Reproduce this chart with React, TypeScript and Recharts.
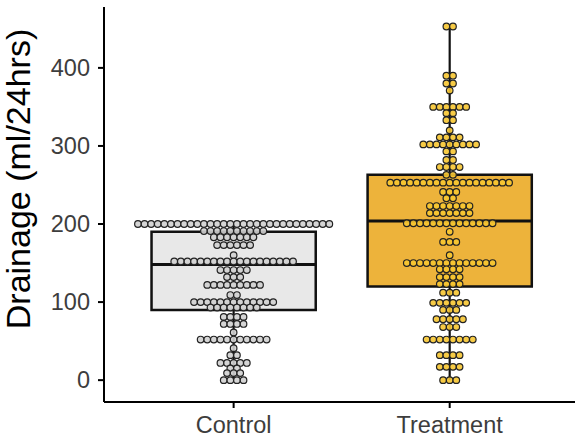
import { ComposedChart, XAxis, YAxis, Scatter, ReferenceArea, ReferenceLine } from "recharts";

const groups = ["Control", "Treatment"];

// dot plot rows: [drainage value, number of dots in that row]
const controlRows = [
  [200, 30], [191, 10], [183, 7], [173, 6], [160, 1], [152, 19], [141, 5],
  [132, 3], [122, 9], [109, 2], [100, 13], [93, 8], [81, 4], [72, 4],
  [61, 1], [52, 11], [41, 1], [32, 2], [22, 5], [15, 2], [9, 3], [0, 4],
];

const treatmentRows = [
  [453, 2], [390, 2], [380, 2], [371, 1], [350, 6], [342, 2], [333, 2],
  [320, 1], [311, 4], [302, 9], [293, 2], [282, 2], [273, 4], [263, 2],
  [253, 19], [241, 3], [233, 2], [223, 7], [214, 7], [201, 14], [190, 1],
  [177, 3], [160, 1], [150, 14], [142, 4], [132, 4], [123, 4], [112, 3],
  [99, 6], [90, 3], [78, 5], [68, 3], [52, 8], [32, 4], [17, 4], [0, 3],
];

const boxMin = [0, 0];
const boxQ1 = [90, 120];
const boxMedian = [148, 204];
const boxQ3 = [190, 263];
const boxMax = [200, 452];

const yTicks = [0, 100, 200, 300, 400];

const BOX_FILL = ["#E8E8E8", "#EDB33B"];
const DOT_FILL = ["#D0D0D0", "#F6C531"];
const DOT_STEP = 6.6;
const HALF_BOX = 0.38;

const toPoints = (rows: number[][], gi: number) =>
  rows.flatMap(([value, n]) =>
    Array.from({ length: n }, (_, i) => ({ x: gi + 1, y: value, slot: i - (n - 1) / 2 }))
  );

const controlPoints = toPoints(controlRows, 0);
const treatmentPoints = toPoints(treatmentRows, 1);

const makeDot = (fill: string) => (props: any) => {
  const { cx, cy, payload } = props;
  return (
    <circle
      cx={cx + payload.slot * DOT_STEP}
      cy={cy}
      r={3.3}
      fill={fill}
      fillOpacity={0.9}
      stroke="#222"
      strokeWidth={1.2}
    />
  );
};

const FONT = "'Liberation Sans', Arial, sans-serif";

export default function App() {
  return (
    <div style={{ position: "absolute", left: 0, top: 0, width: 575, height: 444, overflow: "hidden", background: "#fff" }}>
      <ComposedChart width={575} height={444} margin={{ top: 7, right: 0, bottom: 0, left: 0 }}>
        <XAxis
          type="number"
          dataKey="x"
          domain={[0.4, 2.58]}
          allowDataOverflow
          ticks={[1, 2]}
          tickFormatter={(v: number) => groups[v - 1]}
          height={42}
          axisLine={{ stroke: "#000", strokeWidth: 2 }}
          tickLine={{ stroke: "#000", strokeWidth: 2 }}
          tickSize={6}
          tickMargin={8}
          tick={{ fontSize: 23.5, fill: "#3d3d3d", fontFamily: FONT }}
        />
        <YAxis
          type="number"
          dataKey="y"
          domain={[-28, 478]}
          allowDataOverflow
          ticks={yTicks}
          width={104}
          axisLine={{ stroke: "#000", strokeWidth: 2 }}
          tickLine={{ stroke: "#000", strokeWidth: 2 }}
          tickSize={6}
          tickMargin={8}
          tick={{ fontSize: 23.5, fill: "#3d3d3d", fontFamily: FONT }}
        />
        {groups.map((g, i) => (
          <ReferenceArea
            key={`box-${g}`}
            x1={i + 1 - HALF_BOX}
            x2={i + 1 + HALF_BOX}
            y1={boxQ1[i]}
            y2={boxQ3[i]}
            fill={BOX_FILL[i]}
            fillOpacity={1}
            stroke="#111"
            strokeWidth={2.5}
          />
        ))}
        <Scatter data={controlPoints} isAnimationActive={false} shape={makeDot(DOT_FILL[0])} />
        <Scatter data={treatmentPoints} isAnimationActive={false} shape={makeDot(DOT_FILL[1])} />
        {groups.map((g, i) => (
          <ReferenceLine
            key={`lo-${g}`}
            segment={[{ x: i + 1, y: boxMin[i] }, { x: i + 1, y: boxQ1[i] }]}
            stroke="#111"
            strokeWidth={2.2}
          />
        ))}
        {groups.map((g, i) => (
          <ReferenceLine
            key={`hi-${g}`}
            segment={[{ x: i + 1, y: boxQ3[i] }, { x: i + 1, y: boxMax[i] }]}
            stroke="#111"
            strokeWidth={2.2}
          />
        ))}
        {groups.map((g, i) => (
          <ReferenceLine
            key={`med-${g}`}
            segment={[{ x: i + 1 - HALF_BOX, y: boxMedian[i] }, { x: i + 1 + HALF_BOX, y: boxMedian[i] }]}
            stroke="#111"
            strokeWidth={3}
          />
        ))}
        <text
          x={30}
          y={179}
          transform="rotate(-90 30 179)"
          textAnchor="middle"
          fontSize={34}
          fontFamily={FONT}
          fill="#000"
        >
          Drainage (ml/24hrs)
        </text>
      </ComposedChart>
    </div>
  );
}
